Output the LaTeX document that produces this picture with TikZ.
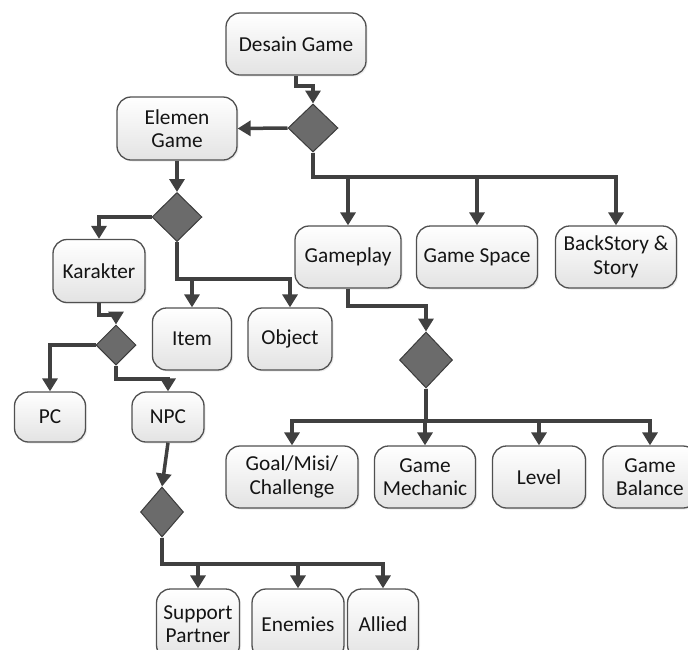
\documentclass[tikz,border=0pt]{standalone}
\usepackage{fontspec}
\setmainfont{Carlito}
\usetikzlibrary{arrows.meta,shapes.geometric,shadows}
\definecolor{lncol}{HTML}{404040}
\definecolor{dmfill}{HTML}{6B6B6B}
\definecolor{dmdraw}{HTML}{3C3C3C}
\definecolor{bxdraw}{HTML}{505050}
\definecolor{txcol}{HTML}{141414}
\begin{document}
\begin{tikzpicture}[x=1pt,y=-1pt,
  bx/.style={draw=bxdraw,line width=1.3pt,rounded corners=14pt,
    top color=white,bottom color=black!11,
    drop shadow={shadow xshift=1.5pt,shadow yshift=-1.5pt,opacity=0.15},
    align=center,inner sep=0pt,text=txcol,
    font=\fontsize{21.3}{23.5}\selectfont},
  dm/.style={diamond,draw=dmdraw,fill=dmfill,line width=1pt,inner sep=0pt,shape aspect=1},
  ln/.style={draw=lncol,line width=3.5pt},
  arr/.style={ln,-{Triangle[length=13pt,width=15pt]}}
]
\useasboundingbox (0,0) rectangle (688,649);

% boxes
\node[bx,minimum width=140pt,minimum height=62pt] (des) at (296,44) {Desain Game};
\node[bx,minimum width=120pt,minimum height=63pt] (elem) at (177,128.5) {Elemen\\Game};
\node[bx,minimum width=106pt,minimum height=62pt] (gp) at (348,257) {Gameplay};
\node[bx,minimum width=121pt,minimum height=62pt] (gs) at (477,257) {Game Space};
\node[bx,minimum width=121pt,minimum height=62pt] (bs) at (616,257) {BackStory \&\\Story};
\node[bx,minimum width=92pt,minimum height=63pt] (kar) at (99,271) {Karakter};
\node[bx,minimum width=79pt,minimum height=62pt] (item) at (192,339) {Item};
\node[bx,minimum width=84pt,minimum height=62pt] (obj) at (290,339) {Object};
\node[bx,minimum width=71pt,minimum height=50pt] (pc) at (50,417) {PC};
\node[bx,minimum width=72pt,minimum height=50pt] (npc) at (168,417) {NPC};
\node[bx,minimum width=132pt,minimum height=62pt] (goal) at (292,477) {Goal/Misi/\\Challenge};
\node[bx,minimum width=101pt,minimum height=62pt] (gm) at (425,477) {Game\\Mechanic};
\node[bx,minimum width=93pt,minimum height=62pt] (lvl) at (539,477) {Level};
\node[bx,minimum width=94pt,minimum height=62pt] (gb) at (650,477) {Game\\Balance};
\node[bx,minimum width=83pt,minimum height=70pt] (sp) at (198,624) {Support\\Partner};
\node[bx,minimum width=92pt,minimum height=70pt] (en) at (298,624) {Enemies};
\node[bx,minimum width=71pt,minimum height=70pt] (al) at (383,624) {Allied};

% diamonds
\node[dm,minimum width=50pt,minimum height=48pt] (d1) at (313,128) {};
\node[dm,minimum width=50pt,minimum height=49pt] (d2) at (177,217) {};
\node[dm,minimum width=40pt,minimum height=40pt] (d3) at (116,345) {};
\node[dm,minimum width=43pt,minimum height=50pt] (d4) at (162,512) {};
\node[dm,minimum width=53pt,minimum height=56pt] (d5) at (426,360) {};

% helper coordinates
\coordinate (c1) at (313,86);
\coordinate (h1) at (313,177);
\coordinate (h2) at (177,279);
\coordinate (c3) at (116,315);
\coordinate (c4) at (168,379);
\coordinate (h4) at (162,564);
\coordinate (c5) at (426,306);
\coordinate (h5) at (426,421);

% connectors
\draw[arr] (des.south) |- (c1) -- (d1.north);
\draw[arr] (d1.west) -- (elem.east);
\draw[arr] (d1.south) -- (h1) -| (gp.north);
\draw[arr] (d1.south) -- (h1) -| (gs.north);
\draw[arr] (d1.south) -- (h1) -| (bs.north);

\draw[arr] (elem.south) -- (d2.north);
\draw[arr] (d2.west) -| (kar.north);
\draw[arr] (d2.south) -- (h2) -| (item.north);
\draw[arr] (d2.south) -- (h2) -| (obj.north);

\draw[arr] (kar.south) |- (c3) -- (d3.north);
\draw[arr] (d3.west) -| (pc.north);
\draw[arr] (d3.south) |- (c4) -- (npc.north);

\draw[arr] (npc.south) -- (d4.north);
\draw[arr] (d4.south) -- (h4) -| (sp.north);
\draw[arr] (d4.south) -- (h4) -| (en.north);
\draw[arr] (d4.south) -- (h4) -| (al.north);

\draw[arr] (gp.south) |- (c5) -- (d5.north);
\draw[arr] (d5.south) -- (h5) -| (goal.north);
\draw[arr] (d5.south) -- (h5) -| (gm.north);
\draw[arr] (d5.south) -- (h5) -| (lvl.north);
\draw[arr] (d5.south) -- (h5) -| (gb.north);
\end{tikzpicture}
\end{document}
